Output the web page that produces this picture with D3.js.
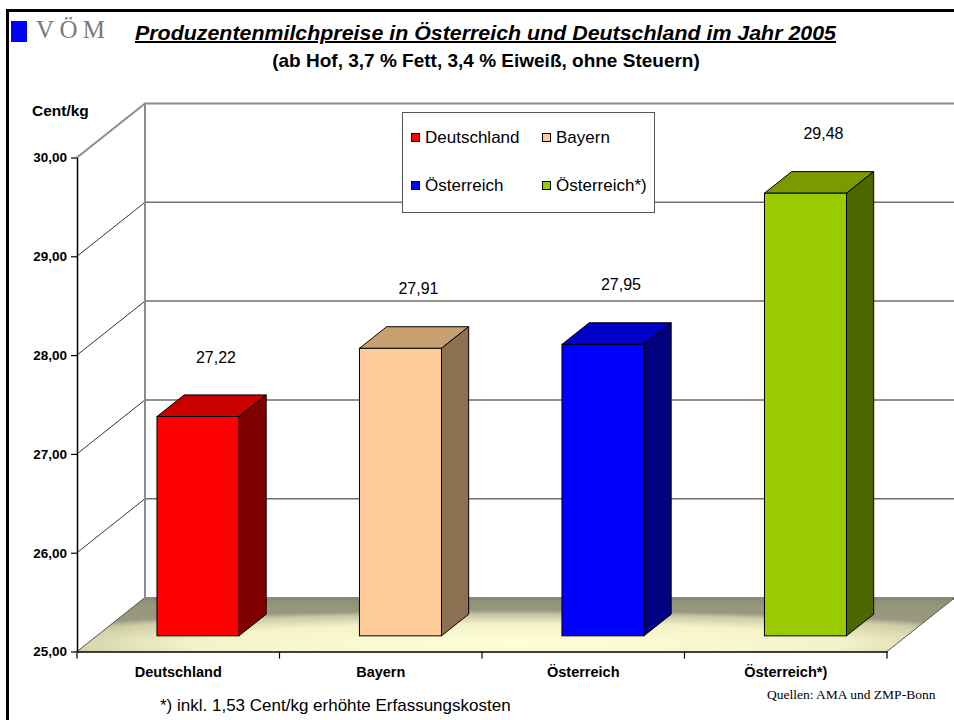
<!DOCTYPE html>
<html><head><meta charset="utf-8">
<script src="https://cdn.jsdelivr.net/npm/d3@7"></script>
<style>body{margin:0;background:#fff}svg{display:block;font-family:Arial,"Liberation Sans",sans-serif}</style>
</head><body><svg id="c" width="954" height="720"></svg>
<script>
const categories = ["Deutschland", "Bayern", "Österreich", "Österreich*)"];
const values = [27.22, 27.91, 27.95, 29.48];
const frontColors = ["#ff0000", "#ffcc99", "#0000ff", "#99cc00"];
const topColors = ["#c80000", "#c8a070", "#0000c8", "#7a9a00"];
const sideColors = ["#800000", "#8c7052", "#000080", "#4c6600"];
const yTicks = [25, 26, 27, 28, 29, 30];
const legendLabels = ["Deutschland", "Bayern", "Österreich", "Österreich*)"];

const svg = d3.select("#c");
const fmt = v => v.toFixed(2).replace(".", ",");

const x = d3.scaleBand().domain(categories).range([77, 887]).padding(0);
const y = d3.scaleLinear().domain([25, 30]).range([651.5, 157.5]);
const D = {dx: 68, dy: -54};
const f1 = 0.29, fd = 0.40;
const barW = x.bandwidth() * 0.405;

// frame
svg.append("rect").attr("x", 6).attr("y", 9).attr("width", 948).attr("height", 3).attr("fill", "#000");
svg.append("rect").attr("x", 6).attr("y", 9).attr("width", 3).attr("height", 711).attr("fill", "#000");

// logo
svg.append("rect").attr("x", 11).attr("y", 21).attr("width", 16).attr("height", 21).attr("fill", "#0000ff");
svg.append("text").attr("x", 36).attr("y", 38).attr("font-family", "'Liberation Serif','DejaVu Serif',serif")
  .attr("font-size", 25).attr("fill", "#7a7a7a")
  .attr("textLength", 69).attr("lengthAdjust", "spacing").text("VÖM");

// titles
svg.append("text").attr("x", 135).attr("y", 40).attr("font-size", 20).attr("font-weight", "bold")
  .attr("font-style", "italic").attr("text-decoration", "underline").attr("textLength", 701)
  .attr("lengthAdjust", "spacingAndGlyphs").text("Produzentenmilchpreise in Österreich und Deutschland im Jahr 2005");
svg.append("text").attr("x", 486).attr("y", 67).attr("text-anchor", "middle").attr("font-size", 19)
  .attr("font-weight", "bold").text("(ab Hof, 3,7 % Fett, 3,4 % Eiweiß, ohne Steuern)");

// floor
const defs = svg.append("defs");
const rg = defs.append("radialGradient").attr("id", "floor").attr("cx", 0.5).attr("cy", 0.85).attr("r", 0.62);
rg.append("stop").attr("offset", 0).attr("stop-color", "#ffffd8");
rg.append("stop").attr("offset", 0.6).attr("stop-color", "#f4f2c8");
rg.append("stop").attr("offset", 0.88).attr("stop-color", "#cccaa2");
rg.append("stop").attr("offset", 1).attr("stop-color", "#8a8a70");
const lgFloor = defs.append("linearGradient").attr("id", "floorBack").attr("x1", 0).attr("x2", 0).attr("y1", 0).attr("y2", 1);
lgFloor.append("stop").attr("offset", 0).attr("stop-color", "#8a8a74").attr("stop-opacity", 0.9);
lgFloor.append("stop").attr("offset", 0.3).attr("stop-color", "#b0ae90").attr("stop-opacity", 0.35);
lgFloor.append("stop").attr("offset", 0.6).attr("stop-color", "#ffffff").attr("stop-opacity", 0);
const x0 = x.range()[0], x1 = x.range()[1], y0 = y(25);
const floorPts = [[x0, y0], [x1, y0], [x1 + D.dx, y0 + D.dy], [x0 + D.dx, y0 + D.dy]].map(p => p.join(",")).join(" ");
svg.append("polygon").attr("points", floorPts).attr("fill", "url(#floor)");
svg.append("polygon").attr("points", floorPts).attr("fill", "url(#floorBack)");
svg.append("line").attr("x1", x0 + D.dx).attr("x2", x1 + D.dx).attr("y1", y0 + D.dy + 1).attr("y2", y0 + D.dy + 1)
  .attr("stroke", "#8a8a7a").attr("stroke-width", 3);
svg.append("line").attr("x1", x1).attr("y1", y0).attr("x2", x1 + D.dx).attr("y2", y0 + D.dy)
  .attr("stroke", "#555").attr("stroke-width", 1);
svg.append("line").attr("x1", x0).attr("y1", y0).attr("x2", x0 + D.dx).attr("y2", y0 + D.dy)
  .attr("stroke", "#555").attr("stroke-width", 1);

// grid on back wall and side wall
const grid = svg.append("g");
yTicks.filter(t => t > 25).forEach(t => {
  const top = t === 30;
  grid.append("line").attr("x1", x0 + D.dx).attr("x2", 960).attr("y1", y(t) + D.dy).attr("y2", y(t) + D.dy)
    .attr("stroke", top ? "#8c8c8c" : "#6e6e6e").attr("stroke-width", top ? 2 : 1.5);
  grid.append("line").attr("x1", x0).attr("y1", y(t)).attr("x2", x0 + D.dx).attr("y2", y(t) + D.dy)
    .attr("stroke", top ? "#8c8c8c" : "#333").attr("stroke-width", top ? 2 : 1);
});
grid.append("line").attr("x1", x0 + D.dx).attr("x2", x0 + D.dx).attr("y1", y(30) + D.dy - 1).attr("y2", y(25) + D.dy)
  .attr("stroke", "#8c8c8c").attr("stroke-width", 2);

// legend
const lg = svg.append("g");
lg.append("rect").attr("x", 402.5).attr("y", 112.5).attr("width", 252).attr("height", 100)
  .attr("fill", "#fff").attr("stroke", "#555").attr("stroke-width", 1);
legendLabels.forEach((l, i) => {
  const cx = 411 + (i % 2) * 131, cy = 133 + Math.floor(i / 2) * 48;
  lg.append("rect").attr("x", cx + 0.5).attr("y", cy + 0.5).attr("width", 8).attr("height", 8)
    .attr("fill", frontColors[i]).attr("stroke", "#000").attr("stroke-width", 1);
  lg.append("text").attr("x", cx + 14).attr("y", cy + 10).attr("font-size", 17).text(l);
});

// bars
const bars = svg.append("g").selectAll("g").data(categories).join("g");
bars.each(function (c, i) {
  const g = d3.select(this);
  const fx = x(c) + (x.bandwidth() - barW) / 2 + D.dx * f1;
  const fyTop = y(values[i]) + D.dy * f1;
  const fyBot = y(25) + D.dy * f1;
  const ddx = D.dx * fd, ddy = D.dy * fd;
  const pts = a => a.map(p => p.join(",")).join(" ");
  g.append("polygon").attr("points", pts([[fx, fyTop], [fx + barW, fyTop], [fx + barW + ddx, fyTop + ddy], [fx + ddx, fyTop + ddy]]))
    .attr("fill", topColors[i]).attr("stroke", "#000").attr("stroke-width", 1).attr("stroke-linejoin", "round");
  g.append("polygon").attr("points", pts([[fx + barW, fyTop], [fx + barW + ddx, fyTop + ddy], [fx + barW + ddx, fyBot + ddy], [fx + barW, fyBot]]))
    .attr("fill", sideColors[i]).attr("stroke", "#000").attr("stroke-width", 1).attr("stroke-linejoin", "round");
  g.append("rect").attr("x", fx).attr("y", fyTop).attr("width", barW).attr("height", fyBot - fyTop)
    .attr("fill", frontColors[i]).attr("stroke", "#000").attr("stroke-width", 1);
  g.append("text").attr("x", fx + barW / 2 + 18).attr("y", fyTop - 54).attr("text-anchor", "middle")
    .attr("font-size", 16).text(fmt(values[i]));
});

// y axis
const ya = svg.append("g").attr("transform", `translate(${x0},0)`)
  .call(d3.axisLeft(y).tickValues(yTicks).tickFormat(fmt).tickSize(6).tickSizeOuter(0).tickPadding(4));
ya.select(".domain").attr("stroke", "#000").attr("stroke-width", 1.5);
ya.selectAll(".tick line").attr("stroke", "#000").attr("stroke-width", 1.2);
ya.selectAll(".tick text").attr("font-size", 13.5).attr("font-weight", "bold").attr("fill", "#000")
  .attr("font-family", "Arial,'Liberation Sans',sans-serif");
svg.append("text").attr("x", 32).attr("y", 116).attr("font-size", 15.5).attr("font-weight", "bold").text("Cent/kg");

// x axis
const xa = svg.append("g").attr("transform", `translate(0,${y0})`)
  .call(d3.axisBottom(x).tickSize(0).tickPadding(15).tickSizeOuter(0));
xa.select(".domain").attr("stroke", "#000").attr("stroke-width", 1.5);
xa.selectAll(".tick text").attr("font-size", 14.5).attr("font-weight", "bold").attr("fill", "#000")
  .attr("font-family", "Arial,'Liberation Sans',sans-serif");
const bounds = categories.map(c => x(c)).concat([x1]);
xa.selectAll("line.b").data(bounds).join("line").attr("class", "b")
  .attr("x1", d => d).attr("x2", d => d).attr("y1", 0).attr("y2", 7).attr("stroke", "#000").attr("stroke-width", 1.2);

// footnotes
svg.append("text").attr("x", 160).attr("y", 711).attr("font-size", 17).text("*) inkl. 1,53 Cent/kg erhöhte Erfassungskosten");
svg.append("text").attr("x", 767).attr("y", 699).attr("font-size", 13.5)
  .attr("font-family", "'Liberation Serif','DejaVu Serif',serif").text("Quellen: AMA und ZMP-Bonn");
</script></body></html>
